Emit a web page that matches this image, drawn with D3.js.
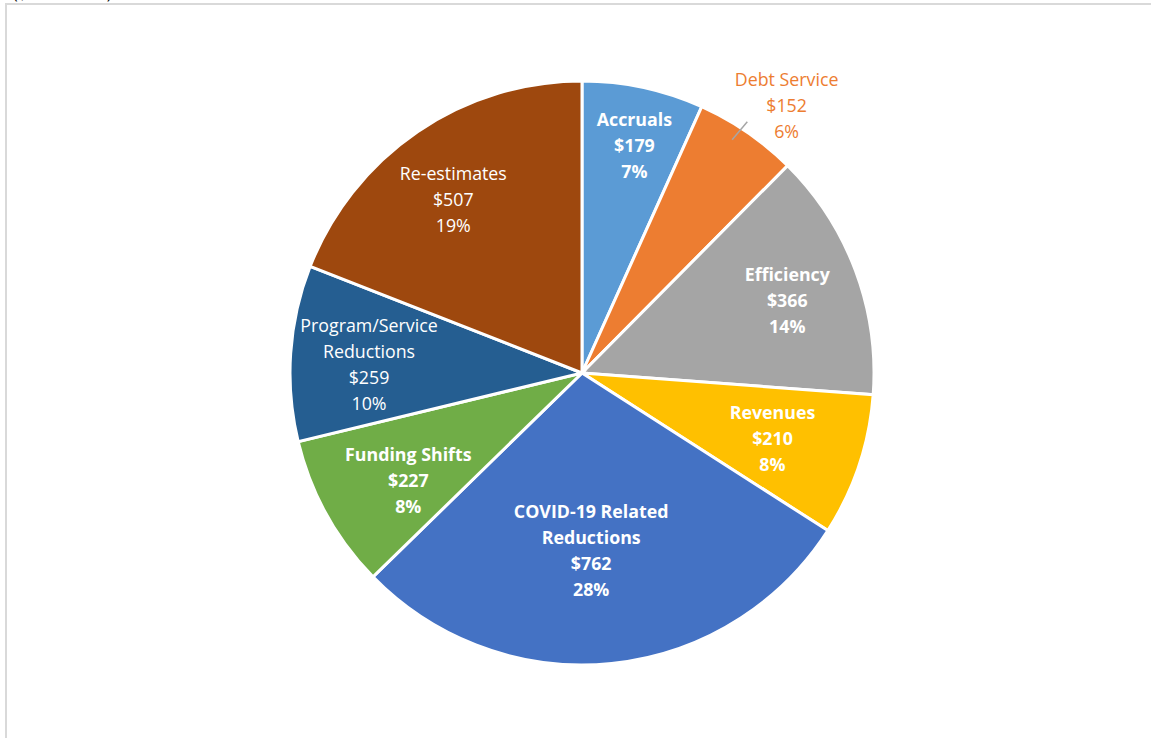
<!DOCTYPE html>
<html>
<head>
<meta charset="utf-8">
<script src="https://cdn.jsdelivr.net/npm/d3@7"></script>
<style>
  html, body { margin: 0; padding: 0; background: #fff; }
  svg { display: block; }
</style>
</head>
<body>
<svg id="chart" width="1151" height="738"></svg>
<script>
// ---- data ----
const categories = ["Accruals", "Debt Service", "Efficiency", "Revenues", "COVID-19 Related Reductions", "Funding Shifts", "Program/Service Reductions", "Re-estimates"];
const values = [179, 152, 366, 210, 762, 227, 259, 507];
const percentLabels = ["7%", "6%", "14%", "8%", "28%", "8%", "10%", "19%"];
const nameLines = [["Accruals"], ["Debt Service"], ["Efficiency"], ["Revenues"], ["COVID-19 Related", "Reductions"], ["Funding Shifts"], ["Program/Service", "Reductions"], ["Re-estimates"]];
const colors = ["#5B9BD5", "#ED7D31", "#A5A5A5", "#FFC000", "#4472C4", "#70AD47", "#255E91", "#9E480E"];

// ---- layout / style ----
const W = 1151, H = 738;
const cx = 582, cy = 373, R = 292;
const boldSet = new Set(["Accruals", "Efficiency", "Revenues", "COVID-19 Related Reductions", "Funding Shifts"]);
const labelRadius = { "Accruals": 0.80, "Efficiency": 0.745, "Revenues": 0.69, "COVID-19 Related Reductions": 0.61, "Funding Shifts": 0.70, "Program/Service Reductions": 0.73, "Re-estimates": 0.74 };
const labelShift = { "Re-estimates": -0.04, "Program/Service Reductions": -0.03, "Funding Shifts": -0.05, "COVID-19 Related Reductions": 0.05, "Accruals": 0.015, "Efficiency": 0.02, "Revenues": 0.01 };
const fontFamily = "'Open Sans', 'Noto Sans', sans-serif";
const fontSize = 17.8, lineH = 26;

const svg = d3.select("#chart");

// frame
svg.append("rect").attr("x", 6).attr("y", 4).attr("width", W + 10).attr("height", H + 10)
  .attr("fill", "none").attr("stroke", "#d9d9d9").attr("stroke-width", 2);

// caption (cut off at the top edge in the original)
svg.append("text").attr("x", 13).attr("y", -1).attr("font-family", fontFamily)
  .attr("font-size", 16).attr("fill", "#000000").text("($ in Millions)");

const data = categories.map((c, i) => ({ name: c, value: values[i], pct: percentLabels[i], lines: nameLines[i], color: colors[i] }));

const pie = d3.pie().value(d => d.value).sort(null);
const arcs = pie(data);
const arc = d3.arc().innerRadius(0).outerRadius(R);

const g = svg.append("g").attr("transform", `translate(${cx},${cy})`);

g.selectAll("path.slice").data(arcs).join("path")
  .attr("class", "slice")
  .attr("d", arc)
  .attr("fill", d => d.data.color)
  .attr("stroke", "#fff")
  .attr("stroke-width", 3)
  .attr("stroke-linejoin", "miter");

// labels
arcs.forEach(a => {
  const mid = (a.startAngle + a.endAngle) / 2;
  const lines = a.data.lines.concat(["$" + a.data.value, a.data.pct]);
  let x, y, fill, weight;
  if (a.data.name === "Debt Service") {
    const r = R * 1.155;
    x = Math.sin(mid + 0.05) * r;
    y = -Math.cos(mid + 0.05) * r + 1;
    fill = a.data.color;
    weight = "normal";
    // leader line
    const la = mid - 0.03;
    const p1 = [Math.sin(la) * (R * 0.95), -Math.cos(la) * (R * 0.95)];
    const p2 = [Math.sin(la + 0.01) * (R * 1.03), -Math.cos(la + 0.01) * (R * 1.03)];
    g.append("line").attr("x1", p1[0]).attr("y1", p1[1]).attr("x2", p2[0]).attr("y2", p2[1])
      .attr("stroke", "#a6a6a6").attr("stroke-width", 1.5);
  } else {
    const r = R * labelRadius[a.data.name];
    const ang = mid + (labelShift[a.data.name] || 0);
    x = Math.sin(ang) * r;
    y = -Math.cos(ang) * r;
    fill = "#fff";
    weight = boldSet.has(a.data.name) ? "bold" : "normal";
  }
  const t = g.append("text")
    .attr("font-family", fontFamily)
    .attr("font-size", fontSize)
    .attr("font-weight", weight)
    .attr("fill", fill)
    .attr("text-anchor", "middle");
  const y0 = y - (lines.length - 1) * lineH / 2;
  lines.forEach((ln, i) => {
    t.append("tspan").attr("x", x).attr("y", y0 + i * lineH).attr("dy", "0.35em").text(ln);
  });
});
</script>
</body>
</html>
